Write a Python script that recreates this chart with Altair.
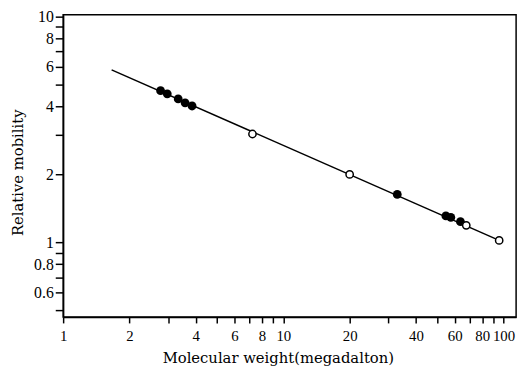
import altair as alt
import pandas as pd

# Filled points (molecular weight in megadalton, relative mobility)
filled_x = [2.77, 2.97, 3.33, 3.58, 3.85, 32.9, 54.7, 57.6, 63.7]
filled_y = [4.70, 4.55, 4.32, 4.15, 4.02, 1.63, 1.31, 1.29, 1.235]

# Open points
open_x = [7.24, 20.0, 67.7, 95.5]
open_y = [3.02, 2.0, 1.19, 1.02]

# Fitted line end points
line_x = [1.66, 95.5]
line_y = [5.81, 1.02]

x_ticks = [1, 2, 3, 4, 5, 6, 7, 8, 9, 10, 20, 30, 40, 50, 60, 70, 80, 90, 100]
x_labels = [1, 2, 4, 6, 8, 10, 20, 40, 60, 80, 100]
y_ticks = [0.5, 0.6, 0.7, 0.8, 0.9, 1, 2, 3, 4, 5, 6, 7, 8, 9, 10]
y_labels = [0.6, 0.8, 1, 2, 4, 6, 8, 10]

TITLE_FONT = "DejaVu Serif"
LABEL_FONT = "Liberation Serif"

df_f = pd.DataFrame({"x": filled_x, "y": filled_y})
df_o = pd.DataFrame({"x": open_x, "y": open_y})
df_l = pd.DataFrame({"x": line_x, "y": line_y})

xlab = "[" + ",".join(str(v) for v in x_labels) + "]"
ylab = "[" + ",".join(str(v) for v in y_labels) + "]"

xscale = alt.Scale(type="log", domain=[1, 114], nice=False)
yscale = alt.Scale(type="log", domain=[0.467, 10.2], nice=False)

xaxis = alt.Axis(
    values=x_ticks,
    labelExpr=f"indexof({xlab}, datum.value) >= 0 ? datum.label : ''",
    format="~g",
    grid=False,
    tickSize=6,
    tickWidth=1.5,
    tickColor="black",
    domainColor="black",
    domainWidth=1.5,
    labelFont=LABEL_FONT,
    labelFontSize=15,
    labelColor="black",
    labelPadding=6,
    labelFlush=False,
    labelOverlap=False,
    title="Molecular weight(megadalton)",
    titleFont=TITLE_FONT,
    titleFontSize=15,
    titleFontWeight="normal",
    titleColor="black",
    titlePadding=7,
    titleX=218,
)

yaxis = alt.Axis(
    values=y_ticks,
    labelExpr=f"indexof({ylab}, datum.value) >= 0 ? datum.label : ''",
    format="~g",
    grid=False,
    tickSize=8,
    tickWidth=1.5,
    tickColor="black",
    domainColor="black",
    domainWidth=1.5,
    labelFont=LABEL_FONT,
    labelFontSize=16,
    labelColor="black",
    labelPadding=2,
    labelFlush=False,
    labelOverlap=False,
    title="Relative mobility",
    titleFont=TITLE_FONT,
    titleFontSize=15,
    titleFontWeight="normal",
    titleColor="black",
    titlePadding=8,
    titleY=160,
)

line = alt.Chart(df_l).mark_line(color="black", strokeWidth=1.5).encode(
    x=alt.X("x:Q", scale=xscale, axis=xaxis),
    y=alt.Y("y:Q", scale=yscale, axis=yaxis),
)

filled = alt.Chart(df_f).mark_point(
    shape="circle", filled=True, color="black", size=80, opacity=1
).encode(x="x:Q", y="y:Q")

opened = alt.Chart(df_o).mark_point(
    shape="circle", filled=True, fill="white", stroke="black", strokeWidth=1.5, size=55, opacity=1
).encode(x="x:Q", y="y:Q")

chart = alt.layer(line, filled, opened).properties(
    width=460,
    height=307,
    background="white",
    autosize=alt.AutoSizeParams(type="none"),
    padding={"left": 56, "top": 4, "right": 7, "bottom": 50},
).configure_view(stroke="black", strokeWidth=1.5)

chart.save("out.html", embed_options={"renderer": "svg", "actions": False})
